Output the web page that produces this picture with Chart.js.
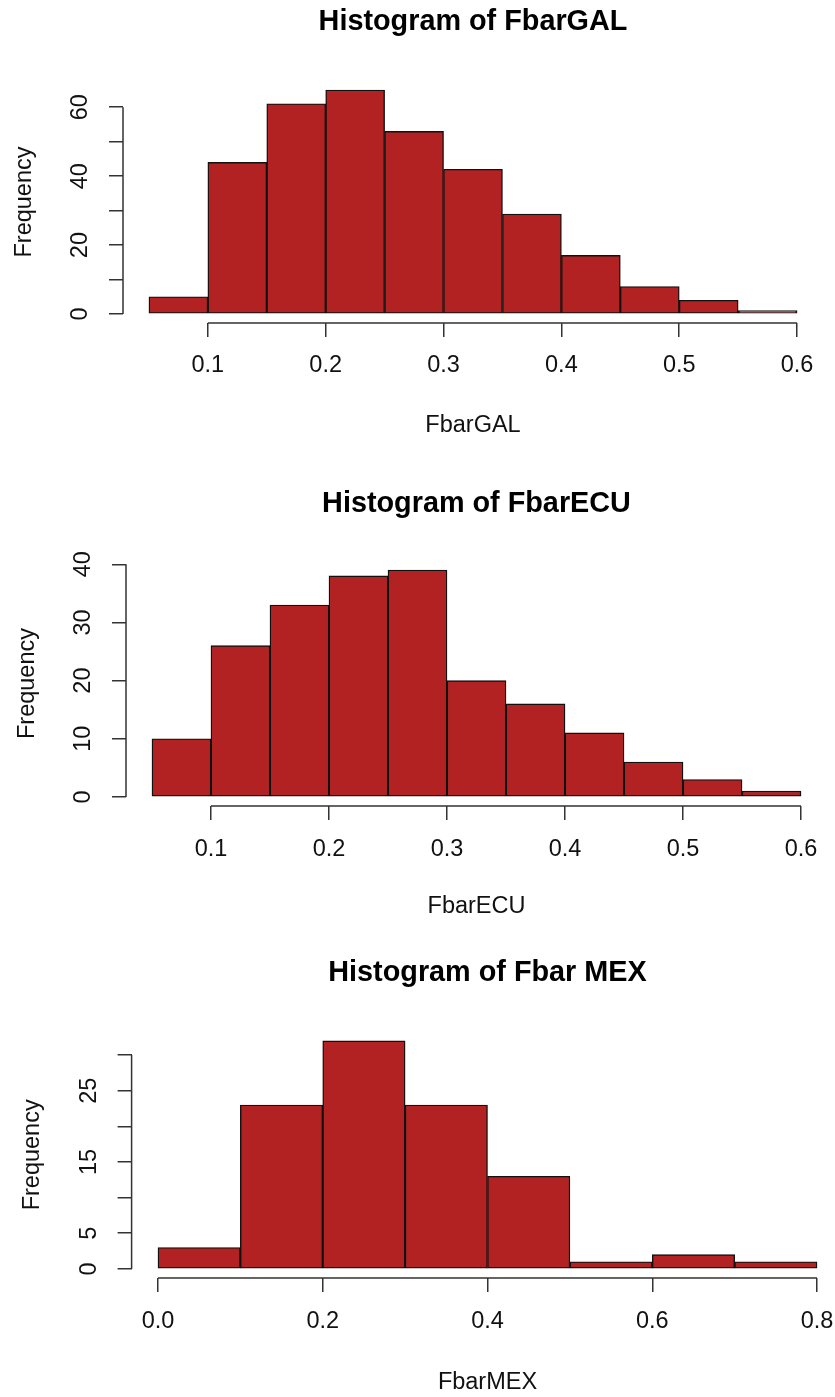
<!DOCTYPE html>
<html>
<head>
<meta charset="utf-8">
<script src="https://cdn.jsdelivr.net/npm/chart.js@4"></script>
<style>
  html, body { margin: 0; padding: 0; background: #fff; overflow: hidden; }
  body { width: 835px; height: 1397px; position: relative; }
  canvas { position: absolute; left: 0; }
</style>
</head>
<body>
<canvas id="galChart"></canvas>
<canvas id="ecuChart"></canvas>
<canvas id="mexChart"></canvas>
<script>
// histogram data
const galBreaks = [0.05, 0.1, 0.15, 0.2, 0.25, 0.3, 0.35, 0.4, 0.45, 0.5, 0.55, 0.6];
const galCounts = [5, 44, 61, 65, 53, 42, 29, 17, 8, 4, 1];
const galXTicks = [0.1, 0.2, 0.3, 0.4, 0.5, 0.6];
const galXLabels = ['0.1', '0.2', '0.3', '0.4', '0.5', '0.6'];
const galYTicks = [0, 10, 20, 30, 40, 50, 60];
const galYLabels = ['0', '', '20', '', '40', '', '60'];

const ecuBreaks = [0.05, 0.1, 0.15, 0.2, 0.25, 0.3, 0.35, 0.4, 0.45, 0.5, 0.55, 0.6];
const ecuCounts = [10, 26, 33, 38, 39, 20, 16, 11, 6, 3, 1];
const ecuXTicks = [0.1, 0.2, 0.3, 0.4, 0.5, 0.6];
const ecuXLabels = ['0.1', '0.2', '0.3', '0.4', '0.5', '0.6'];
const ecuYTicks = [0, 10, 20, 30, 40];
const ecuYLabels = ['0', '10', '20', '30', '40'];

const mexBreaks = [0, 0.1, 0.2, 0.3, 0.4, 0.5, 0.6, 0.7, 0.8];
const mexCounts = [3, 23, 32, 23, 13, 1, 2, 1];
const mexXTicks = [0, 0.2, 0.4, 0.6, 0.8];
const mexXLabels = ['0.0', '0.2', '0.4', '0.6', '0.8'];
const mexYTicks = [0, 5, 10, 15, 20, 25, 30];
const mexYLabels = ['0', '5', '', '15', '', '25', ''];

const FONT = "'Liberation Sans', Arial, sans-serif";
const LABEL_SIZE = 23.5;
const TITLE_SIZE = 28.8;
const TICK_LEN = 14;
const AXIS_COLOR = '#333';
const CANVAS_W = 860;
const X_AXIS_H = 125;
const Y_AXIS_W = 113;

// R draws the axis line only from the first to the last tick
const axisLines = {
    id: 'axisLines',
    afterDraw(chart) {
        const ctx = chart.ctx;
        const area = chart.chartArea;
        const xs = chart.scales.x, ys = chart.scales.y;
        ctx.save();
        ctx.strokeStyle = AXIS_COLOR;
        ctx.lineWidth = 1.5;
        ctx.beginPath();
        ctx.moveTo(xs.getPixelForValue(xs.ticks[0].value), area.bottom);
        ctx.lineTo(xs.getPixelForValue(xs.ticks[xs.ticks.length - 1].value), area.bottom);
        ctx.moveTo(area.left, ys.getPixelForValue(ys.ticks[0].value));
        ctx.lineTo(area.left, ys.getPixelForValue(ys.ticks[ys.ticks.length - 1].value));
        ctx.stroke();
        ctx.restore();
    }
};

function makeHist(id, h, box) {
    const canvas = document.getElementById(id);
    const H = box.bottom - box.canvasTop + X_AXIS_H + 4;
    canvas.width = CANVAS_W;
    canvas.height = H;
    canvas.style.width = CANVAS_W + 'px';
    canvas.style.height = H + 'px';
    canvas.style.top = box.canvasTop + 'px';

    const lh = LABEL_SIZE * 1.2;
    const tlh = TITLE_SIZE * 1.2;
    const n = h.breaks.length - 1;
    const points = h.counts.map((c, i) => ({ x: (h.breaks[i] + h.breaks[i + 1]) / 2, y: c }));
    const xr = h.breaks[n] - h.breaks[0];
    const ymax = Math.max(...h.counts);

    return new Chart(canvas.getContext('2d'), {
        type: 'bar',
        data: {
            datasets: [{
                data: points,
                backgroundColor: '#B22222',
                borderColor: '#111',
                borderWidth: 1.4,
                borderSkipped: false,
                barPercentage: 1,
                categoryPercentage: 1
            }]
        },
        options: {
            responsive: false,
            animation: false,
            events: [],
            layout: {
                padding: { left: box.left - Y_AXIS_W, right: CANVAS_W - box.right, top: 0, bottom: 4 }
            },
            plugins: {
                legend: { display: false },
                tooltip: { enabled: false },
                title: {
                    display: true,
                    text: h.title,
                    fullSize: false,
                    color: '#000',
                    font: { family: FONT, size: TITLE_SIZE, weight: 'bold' },
                    padding: {
                        top: box.titleY - box.canvasTop - tlh / 2,
                        bottom: box.top - box.titleY - tlh / 2
                    }
                }
            },
            scales: {
                x: {
                    type: 'linear',
                    bounds: 'data',
                    offset: false,
                    min: h.breaks[0] - 0.04 * xr,
                    max: h.breaks[n] + 0.04 * xr,
                    afterBuildTicks: s => { s.ticks = h.xTicks.map(v => ({ value: v })); },
                    afterFit: s => { s.height = X_AXIS_H; },
                    border: { display: false },
                    grid: {
                        offset: false,
                        drawOnChartArea: false,
                        color: AXIS_COLOR,
                        lineWidth: 1.5,
                        tickLength: TICK_LEN
                    },
                    ticks: {
                        autoSkip: false,
                        minRotation: 0,
                        maxRotation: 0,
                        color: '#111',
                        font: { family: FONT, size: LABEL_SIZE },
                        padding: box.tickY - box.bottom - TICK_LEN - lh / 2,
                        callback: (v, i) => h.xLabels[i]
                    },
                    title: {
                        display: true,
                        text: h.xTitle,
                        color: '#111',
                        font: { family: FONT, size: LABEL_SIZE },
                        padding: { top: 0, bottom: box.bottom + X_AXIS_H - box.xlabY - lh / 2 }
                    }
                },
                y: {
                    type: 'linear',
                    bounds: 'data',
                    min: -0.04 * ymax,
                    max: 1.04 * ymax,
                    afterBuildTicks: s => { s.ticks = h.yTicks.map(v => ({ value: v })); },
                    afterFit: s => { s.width = Y_AXIS_W; },
                    border: { display: false },
                    grid: {
                        drawOnChartArea: false,
                        color: AXIS_COLOR,
                        lineWidth: 1.5,
                        tickLength: TICK_LEN
                    },
                    ticks: {
                        autoSkip: false,
                        minRotation: 90,
                        maxRotation: 90,
                        crossAlign: 'center',
                        color: '#111',
                        font: { family: FONT, size: LABEL_SIZE },
                        padding: 15,
                        callback: (v, i) => h.yLabels[i]
                    },
                    title: {
                        display: true,
                        text: 'Frequency',
                        color: '#111',
                        font: { family: FONT, size: LABEL_SIZE },
                        padding: { top: 0, bottom: 0 }
                    }
                }
            }
        },
        plugins: [axisLines]
    });
}

makeHist('galChart', {
    title: 'Histogram of FbarGAL', xTitle: 'FbarGAL',
    breaks: galBreaks, counts: galCounts,
    xTicks: galXTicks, xLabels: galXLabels, yTicks: galYTicks, yLabels: galYLabels
}, { canvasTop: 0, titleY: 22, top: 81, bottom: 323, left: 123, right: 823, tickY: 366, xlabY: 425.5 });

makeHist('ecuChart', {
    title: 'Histogram of FbarECU', xTitle: 'FbarECU',
    breaks: ecuBreaks, counts: ecuCounts,
    xTicks: ecuXTicks, xLabels: ecuXLabels, yTicks: ecuYTicks, yLabels: ecuYLabels
}, { canvasTop: 470, titleY: 504, top: 561, bottom: 806, left: 126, right: 827, tickY: 850, xlabY: 907 });

makeHist('mexChart', {
    title: 'Histogram of Fbar MEX', xTitle: 'FbarMEX',
    breaks: mexBreaks, counts: mexCounts,
    xTicks: mexXTicks, xLabels: mexXLabels, yTicks: mexYTicks, yLabels: mexYLabels
}, { canvasTop: 940, titleY: 973.5, top: 1031.7, bottom: 1278, left: 131.6, right: 843.4, tickY: 1322, xlabY: 1383 });
</script>
</body>
</html>
